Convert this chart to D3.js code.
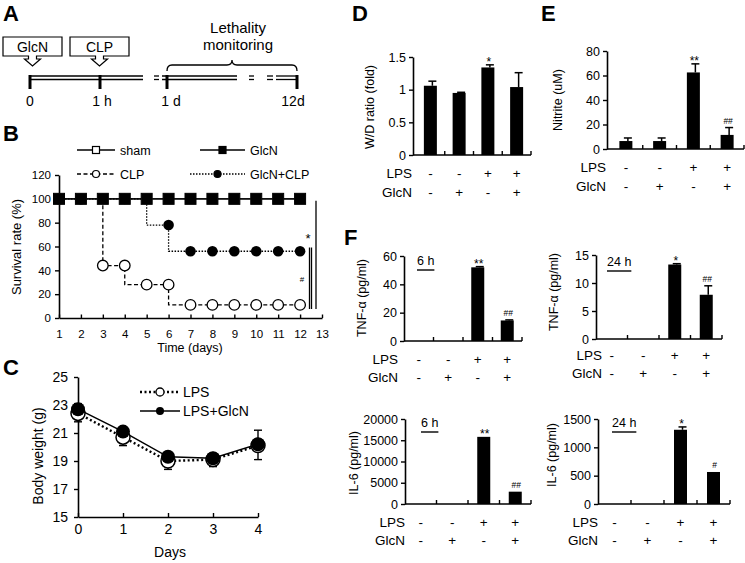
<!DOCTYPE html>
<html><head><meta charset="utf-8">
<script src="https://cdn.jsdelivr.net/npm/d3@7"></script>
<style>
body{margin:0;background:#fff}
svg{display:block}
text{font-family:"Liberation Sans",Arial,Helvetica,sans-serif;fill:#000}
</style>
</head><body>
<svg id="chart" width="745" height="563"></svg>
<script>
// ---------------- DATA ----------------
const panelLetters = ["A","B","C","D","E","F"];
const timelineLabels = ["0","1 h","1 d","12d"];
const timelineBoxes = ["GlcN","CLP"];
const monitorLabel = ["Lethality","monitoring"];

const survDays   = [1,2,3,4,5,6,7,8,9,10,11,12];
const survSham   = [100,100,100,100,100,100,100,100,100,100,100,100];
const survGlcN   = [100,100,100,100,100,100,100,100,100,100,100,100];
const survCLP    = [100,100,44,44,28,28,11,11,11,11,11,11];
const survGlcNCLP= [100,100,100,100,100,78,56,56,56,56,56,56];
const survYTicks = [0,20,40,60,80,100,120];
const survXTicks = [1,2,3,4,5,6,7,8,9,10,11,12,13];
const survSeriesNames = ["sham","GlcN","CLP","GlcN+CLP"];

const bwDays    = [0,1,2,3,4];
const bwLPS     = [22.4,20.7,19.0,19.1,20.1];
const bwLPSErr  = [0.6,0.6,0.6,0.5,1.0];
const bwGlcN    = [22.7,21.1,19.3,19.2,20.2];
const bwGlcNErr = [0.4,0.3,0.2,0.2,1.0];
const bwYTicks  = [15,17,19,21,23,25];
const bwSeriesNames = ["LPS","LPS+GlcN"];

const groups    = ["g1","g2","g3","g4"];
const lpsSigns  = ["-","-","+","+"];
const glcnSigns = ["-","+","-","+"];
const rowNames  = ["LPS","GlcN"];

const wdValues = [1.06,0.95,1.34,1.04];
const wdErr    = [0.07,0.01,0.04,0.22];
const wdSig    = ["","","*",""];
const wdTicks  = [0,0.5,1,1.5];

const nitValues = [6.5,6.5,62.5,11.5];
const nitErr    = [2.5,2.5,7,6];
const nitSig    = ["","","**","##"];
const nitTicks  = [0,20,40,60,80];

const tnf6Values = [0,0,52,14.5];
const tnf6Err    = [0,0,0.5,0.4];
const tnf6Sig    = ["","","**","##"];
const tnf6Ticks  = [0,20,40,60];

const tnf24Values = [0,0,13.3,7.9];
const tnf24Err    = [0,0,0.15,1.6];
const tnf24Sig    = ["","","*","##"];
const tnf24Ticks  = [0,5,10,15];

const il6Values = [0,0,15800,2900];
const il6Err    = [0,0,0,0];
const il6Sig    = ["","","**","##"];
const il6Ticks  = [0,5000,10000,15000,20000];

const il24Values = [0,0,1310,565];
const il24Err    = [0,0,50,0];
const il24Sig    = ["","","*","#"];
const il24Ticks  = [0,500,1000,1500];

// ---------------- DRAW ----------------
const svg = d3.select("#chart");
const FONT = '"Liberation Sans",Arial,Helvetica,sans-serif';

function styleAxis(sel, fs){
  sel.attr("font-family", FONT).attr("font-size", fs);
  sel.selectAll("path.domain").attr("stroke","#000").attr("stroke-width",1.6);
  sel.selectAll(".tick line").attr("stroke","#000").attr("stroke-width",1.4);
  sel.selectAll(".tick text").attr("fill","#000");
}

// panel letters
const letterPos = [[3,21],[3,141],[3,375],[352,21],[541,21],[344,245]];
panelLetters.forEach((L,i)=>{
  svg.append("text").attr("x",letterPos[i][0]).attr("y",letterPos[i][1])
    .attr("font-size",22).attr("font-weight","bold").text(L);
});

// ---------- Panel A ----------
(function(){
  const g = svg.append("g");
  const boxX = [3,70], boxW = 59, top = 37, h = 19;
  timelineBoxes.forEach((lab,i)=>{
    const x = boxX[i], cx = x + boxW/2;
    const p = `M${x},${top}h${boxW}v${h}H${cx+4}v3h4L${cx},${top+h+10}L${cx-8},${top+h+3}h4v-3H${x}Z`;
    g.append("path").attr("d",p).attr("fill","#fff").attr("stroke","#000").attr("stroke-width",1.2);
    g.append("text").attr("x",cx).attr("y",top+15).attr("text-anchor","middle").attr("font-size",14).text(lab);
  });
  const segs = [[30,143],[154,159],[162,237],[249,254],[267,273],[276,298]];
  segs.forEach(s=>{
    [76,79.5].forEach(yy=>g.append("line").attr("x1",s[0]).attr("x2",s[1]).attr("y1",yy).attr("y2",yy)
      .attr("stroke","#000").attr("stroke-width",1.3));
  });
  const tickX = [30,100,167,297];
  const labX = [30,102,171,293];
  timelineLabels.forEach((lab,i)=>{
    g.append("line").attr("x1",tickX[i]).attr("x2",tickX[i]).attr("y1",75).attr("y2",89)
      .attr("stroke","#000").attr("stroke-width",3);
    g.append("text").attr("x",labX[i]).attr("y",106).attr("text-anchor","middle").attr("font-size",14).text(lab);
  });
  g.append("path").attr("d","M167,71Q167,65 172,65L227,65Q232,65 232,60Q232,65 237,65L292,65Q297,65 297,71")
    .attr("fill","none").attr("stroke","#000").attr("stroke-width",1.3);
  g.append("text").attr("x",238).attr("y",33).attr("text-anchor","middle").attr("font-size",15).text(monitorLabel[0]);
  g.append("text").attr("x",238).attr("y",50).attr("text-anchor","middle").attr("font-size",15).text(monitorLabel[1]);
})();

// ---------- Panel B ----------
(function(){
  const g = svg.append("g");
  const x = d3.scaleLinear().domain([1,13]).range([59,322]);
  const y = d3.scaleLinear().domain([0,120]).range([318,175]);
  const ya = g.append("g").attr("transform","translate(59,0)")
    .call(d3.axisLeft(y).tickValues(survYTicks).tickSize(4).tickSizeOuter(0).tickPadding(4));
  styleAxis(ya,11.5);
  const xa = g.append("g").attr("transform","translate(0,318)")
    .call(d3.axisBottom(x).tickValues(survXTicks).tickSize(0).tickSizeOuter(0).tickPadding(12));
  styleAxis(xa,11.5);
  xa.selectAll(".tick").append("line").attr("y1",0).attr("y2",-3.5).attr("stroke","#000").attr("stroke-width",1.4);
  g.append("text").attr("x",190).attr("y",352).attr("text-anchor","middle").attr("font-size",12.5).text("Time  (days)");
  g.append("text").attr("transform","translate(21,247) rotate(-90)").attr("text-anchor","middle").attr("font-size",13).text("Survival rate (%)");

  const pts = arr => survDays.map((d,i)=>[x(d),y(arr[i])]);
  const stepB = d3.line().curve(d3.curveStepBefore);
  // CLP: first death drawn as a drop at the day it is recorded
  const firstDrop = survCLP.findIndex(v=>v<survCLP[0]);
  const clpPts = [[x(survDays[firstDrop]), y(survCLP[firstDrop-1])]].concat(pts(survCLP).slice(firstDrop));
  g.append("path").attr("d",stepB(clpPts)).attr("fill","none").attr("stroke","#000").attr("stroke-width",1.3).attr("stroke-dasharray","4,2.5");
  g.append("path").attr("d",stepB(pts(survGlcNCLP))).attr("fill","none").attr("stroke","#000").attr("stroke-width",1.3).attr("stroke-dasharray","1.5,1.5");
  g.append("path").attr("d",stepB(pts(survSham))).attr("fill","none").attr("stroke","#000").attr("stroke-width",1.3);
  g.append("path").attr("d",stepB(pts(survGlcN))).attr("fill","none").attr("stroke","#000").attr("stroke-width",1.3);

  g.selectAll(".clp").data(survCLP).join("circle").attr("cx",(d,i)=>x(survDays[i])).attr("cy",d=>y(d)).attr("r",5.3)
    .attr("fill","#fff").attr("stroke","#000").attr("stroke-width",1.3);
  g.selectAll(".gc").data(survGlcNCLP).join("circle").attr("cx",(d,i)=>x(survDays[i])).attr("cy",d=>y(d)).attr("r",5.3)
    .attr("fill","#000");
  g.selectAll(".sh").data(survSham).join("rect").attr("x",(d,i)=>x(survDays[i])-5.5).attr("y",d=>y(d)-5.5)
    .attr("width",11).attr("height",11).attr("fill","#fff").attr("stroke","#000");
  g.selectAll(".gl").data(survGlcN).join("rect").attr("x",(d,i)=>x(survDays[i])-5.5).attr("y",d=>y(d)-5.5)
    .attr("width",11).attr("height",11).attr("fill","#000");

  // significance
  g.append("line").attr("x1",316).attr("x2",316).attr("y1",y(100)+2).attr("y2",309).attr("stroke","#000").attr("stroke-width",1.3);
  g.append("line").attr("x1",309.5).attr("x2",309.5).attr("y1",y(60)+1).attr("y2",309).attr("stroke","#000").attr("stroke-width",1.3);
  g.append("line").attr("x1",311.5).attr("x2",311.5).attr("y1",y(60)+1).attr("y2",309).attr("stroke","#000").attr("stroke-width",1.3);
  g.append("text").attr("x",308).attr("y",243).attr("text-anchor","middle").attr("font-size",13).text("*");
  g.append("text").attr("x",302).attr("y",282).attr("text-anchor","middle").attr("font-size",8).text("#");

  // legend
  const leg = [
    {x1:77,x2:115,y:150,dash:null,mark:"sq",fill:"#fff",tx:120},
    {x1:200,x2:245,y:150,dash:null,mark:"sq",fill:"#000",tx:250},
    {x1:77,x2:115,y:174,dash:"4,2.5",mark:"c",fill:"#fff",tx:120},
    {x1:190,x2:245,y:174,dash:"1.5,1.5",mark:"c",fill:"#000",tx:250}
  ];
  leg.forEach((l,i)=>{
    const ln = g.append("line").attr("x1",l.x1).attr("x2",l.x2).attr("y1",l.y).attr("y2",l.y).attr("stroke","#000").attr("stroke-width",1.3);
    if(l.dash) ln.attr("stroke-dasharray",l.dash);
    const cx=(l.x1+l.x2)/2;
    if(l.mark==="sq") g.append("rect").attr("x",cx-3.5).attr("y",l.y-3.5).attr("width",7).attr("height",7).attr("fill",l.fill).attr("stroke","#000").attr("stroke-width",1.2);
    else g.append("circle").attr("cx",cx).attr("cy",l.y).attr("r",3.5).attr("fill",l.fill).attr("stroke","#000").attr("stroke-width",1.2);
    g.append("text").attr("x",l.tx).attr("y",l.y+4.5).attr("font-size",12.5).text(survSeriesNames[i]);
  });
})();

// ---------- Panel C ----------
(function(){
  const g = svg.append("g");
  const x = d3.scaleLinear().domain([0,4]).range([78,258]);
  const y = d3.scaleLinear().domain([15,25]).range([517,377]);
  const ya = g.append("g").attr("transform","translate(78,0)")
    .call(d3.axisLeft(y).tickValues(bwYTicks).tickSize(4).tickSizeOuter(0).tickPadding(6).tickFormat(d3.format("d")));
  styleAxis(ya,14);
  const xa = g.append("g").attr("transform","translate(0,517)")
    .call(d3.axisBottom(x).tickValues(bwDays).tickSize(0).tickSizeOuter(0).tickPadding(7).tickFormat(d3.format("d")));
  styleAxis(xa,14);
  xa.selectAll(".tick").append("line").attr("y1",0).attr("y2",-4).attr("stroke","#000").attr("stroke-width",1.4);
  g.append("text").attr("x",170).attr("y",557).attr("text-anchor","middle").attr("font-size",14).text("Days");
  g.append("text").attr("transform","translate(43,456) rotate(-90)").attr("text-anchor","middle").attr("font-size",14).text("Body weight (g)");

  // error bars
  const cap = (xx,yy)=>g.append("line").attr("x1",xx-4).attr("x2",xx+4).attr("y1",yy).attr("y2",yy).attr("stroke","#000").attr("stroke-width",1.4);
  bwDays.forEach((d,i)=>{
    const xx=x(d);
    g.append("line").attr("x1",xx).attr("x2",xx).attr("y1",y(bwLPS[i])).attr("y2",y(bwLPS[i]-bwLPSErr[i])).attr("stroke","#000").attr("stroke-width",1.4);
    cap(xx,y(bwLPS[i]-bwLPSErr[i]));
    g.append("line").attr("x1",xx).attr("x2",xx).attr("y1",y(bwGlcN[i])).attr("y2",y(bwGlcN[i]+bwGlcNErr[i])).attr("stroke","#000").attr("stroke-width",1.4);
    cap(xx,y(bwGlcN[i]+bwGlcNErr[i]));
  });
  const line = d3.line().x((d,i)=>x(bwDays[i])).y(d=>y(d));
  g.append("path").attr("d",line(bwLPS)).attr("fill","none").attr("stroke","#000").attr("stroke-width",2.4).attr("stroke-dasharray","2,2.5");
  g.append("path").attr("d",line(bwGlcN)).attr("fill","none").attr("stroke","#000").attr("stroke-width",1.5);
  g.selectAll(".lp").data(bwLPS).join("circle").attr("cx",(d,i)=>x(bwDays[i])).attr("cy",d=>y(d)).attr("r",7)
    .attr("fill","#fff").attr("stroke","#000").attr("stroke-width",1.5);
  g.selectAll(".lg").data(bwGlcN).join("circle").attr("cx",(d,i)=>x(bwDays[i])).attr("cy",d=>y(d)).attr("r",7)
    .attr("fill","#000");
  // legend
  g.append("line").attr("x1",140).attr("x2",180).attr("y1",392).attr("y2",392).attr("stroke","#000").attr("stroke-width",2.4).attr("stroke-dasharray","2,2.5");
  g.append("circle").attr("cx",160).attr("cy",392).attr("r",4).attr("fill","#fff").attr("stroke","#000").attr("stroke-width",1.3);
  g.append("text").attr("x",183).attr("y",397).attr("font-size",14).text(bwSeriesNames[0]);
  g.append("line").attr("x1",140).attr("x2",180).attr("y1",411).attr("y2",411).attr("stroke","#000").attr("stroke-width",1.5);
  g.append("circle").attr("cx",160).attr("cy",411).attr("r",4).attr("fill","#000");
  g.append("text").attr("x",183).attr("y",416).attr("font-size",14).text(bwSeriesNames[1]);
})();

// ---------- Bar panels ----------
function barPanel(o, values, errs, sigs, ticks){
  const g = svg.append("g");
  const y = d3.scaleLinear().domain([0, ticks[ticks.length-1]]).range([o.y0, o.yTop]);
  const x = d3.scaleBand().domain(groups).range([o.bandStart, o.xEnd]).padding(0);
  const ya = g.append("g").attr("transform",`translate(${o.ax},0)`)
    .call(d3.axisLeft(y).tickValues(ticks).tickSize(4).tickSizeOuter(0).tickPadding(3).tickFormat(d=>String(d)));
  styleAxis(ya,12.5);
  g.append("line").attr("x1",o.ax).attr("x2",o.xEnd).attr("y1",o.y0).attr("y2",o.y0).attr("stroke","#000").attr("stroke-width",1.6);
  g.selectAll(".sep").data(groups).join("line")
    .attr("x1",d=>x(d)+x.step()).attr("x2",d=>x(d)+x.step())
    .attr("y1",o.y0).attr("y2",o.y0-4).attr("stroke","#000").attr("stroke-width",1.4);
  const bw = 13;
  const cx = d=>x(d)+x.bandwidth()/2;
  groups.forEach((gr,i)=>{
    if(errs[i]>0){
      const ex = cx(gr)+2;
      g.append("line").attr("x1",ex).attr("x2",ex).attr("y1",y(values[i])).attr("y2",y(values[i]+errs[i])).attr("stroke","#000").attr("stroke-width",1.5);
      g.append("line").attr("x1",ex-4).attr("x2",ex+4).attr("y1",y(values[i]+errs[i])).attr("y2",y(values[i]+errs[i])).attr("stroke","#000").attr("stroke-width",1.5);
    }
  });
  g.selectAll(".bar").data(values).join("rect")
    .attr("x",(d,i)=>cx(groups[i])-bw/2).attr("width",bw)
    .attr("y",d=>y(d)).attr("height",d=>o.y0-y(d)).attr("fill","#000");
  sigs.forEach((s,i)=>{
    if(!s) return;
    const star = s.indexOf("*")>=0;
    g.append("text").attr("x",cx(groups[i])+1).attr("y",y(values[i]+errs[i])-(star?-1:4))
      .attr("text-anchor","middle").attr("font-size",star?12:8.5).text(s);
  });
  [lpsSigns,glcnSigns].forEach((row,r)=>{
    const yy = r===0?o.row1:o.row2;
    g.append("text").attr("x",o.labelEnd).attr("y",yy).attr("text-anchor","end").attr("font-size",13.5).text(rowNames[r]);
    row.forEach((s,i)=>{
      g.append("text").attr("x",cx(groups[i])).attr("y",yy).attr("text-anchor","middle").attr("font-size",13.5).text(s);
    });
  });
  g.append("text").attr("transform",`translate(${o.titleX},${o.titleY}) rotate(-90)`)
    .attr("text-anchor","middle").attr("font-size",12.5).text(o.title);
  if(o.time){
    const t = g.append("text").attr("x",o.timeX).attr("y",o.timeY).attr("font-size",12.5).text(o.time);
    const w = t.node().getComputedTextLength();
    g.append("line").attr("x1",o.timeX).attr("x2",o.timeX+w).attr("y1",o.timeY+5).attr("y2",o.timeY+5).attr("stroke","#000").attr("stroke-width",1.4);
  }
}

barPanel({ax:413,y0:155,yTop:57,bandStart:416,xEnd:531,row1:178,row2:197,labelEnd:412,
  title:"W/D ratio (fold)",titleX:374,titleY:107}, wdValues, wdErr, wdSig, wdTicks);
barPanel({ax:607,y0:149,yTop:51,bandStart:609,xEnd:744,row1:172,row2:191,labelEnd:606,
  title:"Nitrite (uM)",titleX:562,titleY:100}, nitValues, nitErr, nitSig, nitTicks);
barPanel({ax:404,y0:341,yTop:256,bandStart:404,xEnd:522,row1:364,row2:382,labelEnd:398,
  title:"TNF-α (pg/ml)",titleX:366,titleY:298,time:"6 h",timeX:417,timeY:265}, tnf6Values, tnf6Err, tnf6Sig, tnf6Ticks);
barPanel({ax:596,y0:339,yTop:255,bandStart:596,xEnd:722,row1:360,row2:378,labelEnd:602,
  title:"TNF-α (pg/ml)",titleX:558,titleY:292,time:"24 h",timeX:607,timeY:266}, tnf24Values, tnf24Err, tnf24Sig, tnf24Ticks);
barPanel({ax:405,y0:504,yTop:419,bandStart:405,xEnd:531,row1:527,row2:545,labelEnd:405,
  title:"IL-6 (pg/ml)",titleX:358,titleY:463,time:"6 h",timeX:421,timeY:427}, il6Values, il6Err, il6Sig, il6Ticks);
barPanel({ax:598,y0:504,yTop:419,bandStart:598,xEnd:730,row1:527,row2:545,labelEnd:598,
  title:"IL-6 (pg/ml)",titleX:556,titleY:455,time:"24 h",timeX:612,timeY:427}, il24Values, il24Err, il24Sig, il24Ticks);
</script>
</body></html>
